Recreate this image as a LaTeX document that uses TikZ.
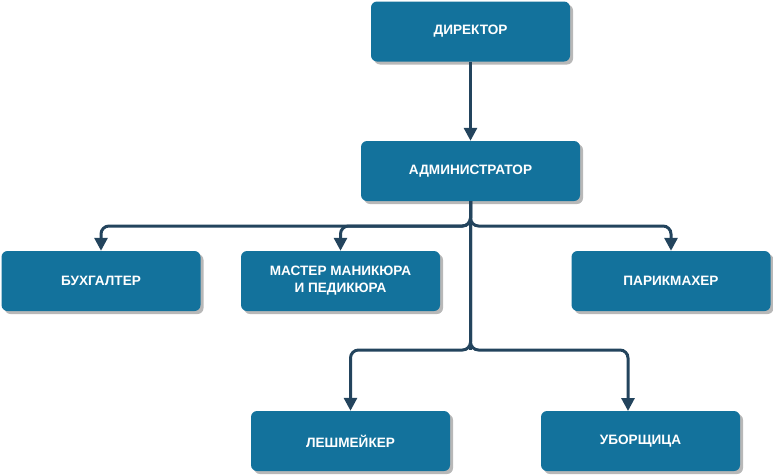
\documentclass[tikz,border=0pt]{standalone}
\usepackage{fontspec}
\setmainfont{Liberation Sans}
\usetikzlibrary{arrows.meta,shadows}
\definecolor{boxfill}{HTML}{13729C}
\definecolor{linec}{HTML}{23445D}
\tikzset{
  unit/.style={x=1pt,y=-1pt},
  orgbox/.style={draw=none, fill=boxfill, rounded corners=6pt, minimum width=199pt, minimum height=60pt,
    text=white, font=\fontsize{13.6}{17}\selectfont\bfseries, align=center, inner sep=0pt,
    drop shadow={shadow xshift=3pt, shadow yshift=-3pt, fill=black!35, opacity=0.8}},
  conn/.style={draw=linec, line width=3pt, rounded corners=8pt, -{Triangle[length=13pt,width=13pt]}},
  trunk/.style={draw=linec, line width=3pt}
}
\begin{document}
\begin{tikzpicture}[unit]
\useasboundingbox (0,0) rectangle (773,474);
\node[orgbox] (dir) at (470.5,31.5) {ДИРЕКТОР};
\node[orgbox, minimum width=219pt] (adm) at (470.5,171) {АДМИНИСТРАТОР};
\node[orgbox] (buh) at (101,281) {БУХГАЛТЕР};
\node[orgbox] (mas) at (340.5,281) {МАСТЕР МАНИКЮРА\\И ПЕДИКЮРА};
\node[orgbox] (par) at (671,281) {ПАРИКМАХЕР};
\node[orgbox] (les) at (350.5,441) {ЛЕШМЕЙКЕР};
\node[orgbox] (ubo) at (640.5,441) {УБОРЩИЦА};
\coordinate (j1) at (470.5,226);
\coordinate (j2) at (470.5,350);
\coordinate (ubt) at (628,411);
\draw[conn] (dir.south) -- (adm.north);
\draw[trunk] (adm.south) -- (j2);
\draw[conn] (adm.south) -- (j1) -| (buh.north);
\draw[conn] (adm.south) -- (j1) -| (mas.north);
\draw[conn] (adm.south) -- (j1) -| (par.north);
\draw[conn] (adm.south) -- (j2) -| (les.north);
\draw[conn] (adm.south) -- (j2) -| (ubt);
\end{tikzpicture}
\end{document}
